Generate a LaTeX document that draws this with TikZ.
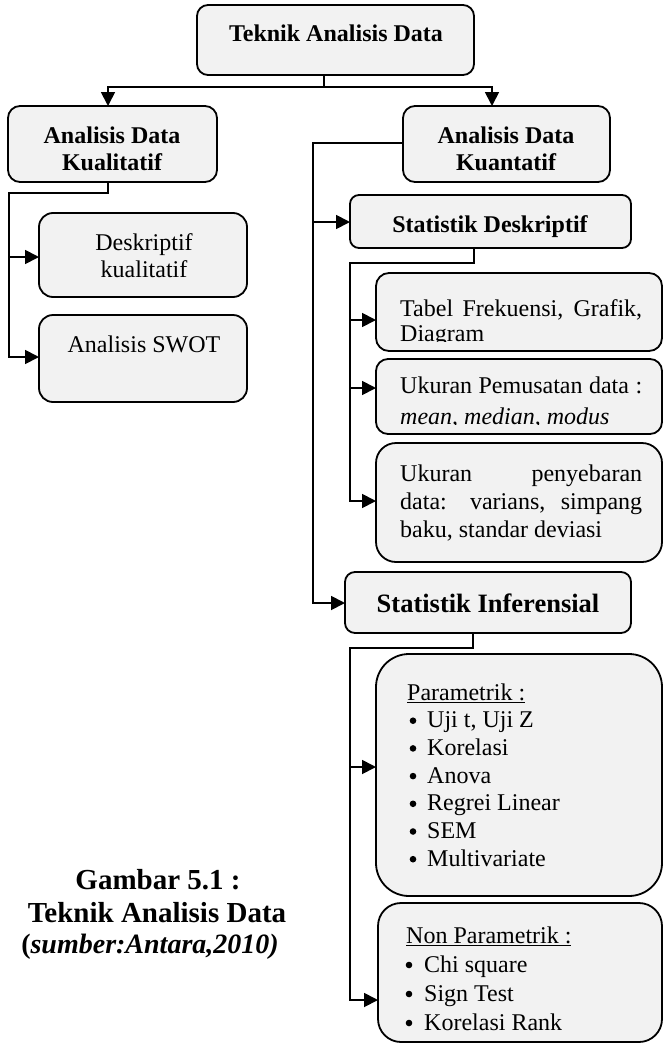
\documentclass[tikz,border=0pt]{standalone}
\usepackage{fontspec}
\setmainfont{Liberation Serif}
\usetikzlibrary{arrows.meta}
\definecolor{boxfill}{HTML}{F2F2F2}

% rounded box from its corners: name, x1, y1, x2, y2, corner radius
\newcommand\drawbox[6]{%
  \node[box, rounded corners=#6pt,
        minimum width={(#4)-(#2)}, minimum height={(#5)-(#3)}]
    (#1) at ({((#2)+(#4))/2},{((#3)+(#5))/2}) {};}

\begin{document}
\begin{tikzpicture}[x=1pt,y=-1pt,
  box/.style={draw=black, fill=boxfill, line width=1.8pt, inner sep=0pt, outer sep=0pt},
  conn/.style={draw=black, line width=1.8pt},
  arr/.style={conn, -{Triangle[length=14pt,width=14pt]}},
  txt/.style={inner sep=0pt, anchor=base, font=\fontsize{24}{27.6}\selectfont},
  btxt/.style={txt, font=\bfseries\fontsize{24}{27.6}\selectfont},
  ltxt/.style={txt, anchor=base west},
  bullet/.style={fill=black},
  captxt/.style={inner sep=0pt, anchor=base, font=\bfseries\fontsize{29}{33}\selectfont}]
\useasboundingbox (0,0) rectangle (663,1044);

% boxes
\drawbox{T}{197}{5}{474}{75}{11}
\drawbox{KL}{8}{106}{217}{182}{12}
\drawbox{KN}{403}{106}{610}{182}{12}
\drawbox{DK}{39}{213}{247}{297}{14}
\drawbox{SW}{39}{315}{247}{402}{14}
\drawbox{SD}{350}{195}{631}{248}{9}
\drawbox{TF}{376}{273}{662}{351}{13}
\drawbox{UP}{376}{359}{662}{434}{12}
\drawbox{UY}{376}{443}{662}{562}{20}
\drawbox{SI}{345}{572}{631}{633}{10}
\drawbox{PA}{376}{654}{662}{896}{33}
\drawbox{NP}{378}{903}{662}{1042}{23}

% texts
\node[btxt] (tT) at (336,41) {Teknik Analisis Data};
\node[btxt] (tKL1) at (112,143) {Analisis Data};
\node[btxt] (tKL2) at (112,170) {Kualitatif};
\begin{scope}
  \clip (403,106) rectangle (610,171);
  \node[btxt] (tKN1) at (506,143) {Analisis Data};
  \node[btxt] (tKN2) at (506,170) {Kuantatif};
\end{scope}
\node[txt] (tDK1) at (144,250) {Deskriptif};
\node[txt] (tDK2) at (144,277) {kualitatif};
\node[txt] (tSW) at (144,352) {Analisis SWOT};
\node[btxt] (tSD) at (490,232) {Statistik Deskriptif};
\begin{scope}
  \clip (376,273) rectangle (662,341);
  \node[ltxt] (tTF1) at (400,316) {\makebox[242pt][s]{Tabel Frekuensi, Grafik,}};
  \node[ltxt] (tTF2) at (400,341) {Diagram};
\end{scope}
\begin{scope}
  \clip (376,359) rectangle (662,424);
  \node[ltxt] (tUP1) at (400,393) {\makebox[242pt][s]{Ukuran Pemusatan data :}};
  \node[ltxt] (tUP2) at (400,424) {\itshape mean, median, modus};
\end{scope}
\node[ltxt] (tUY1) at (400,481) {\makebox[242pt][s]{Ukuran penyebaran}};
\node[ltxt] (tUY2) at (400,509) {\makebox[242pt][s]{data: varians, simpang}};
\node[ltxt] (tUY3) at (400,537) {baku, standar deviasi};
\node[txt, font=\bfseries\fontsize{26.5}{30}\selectfont] (tSI) at (488,612) {Statistik Inferensial};

% parametric list
\node[ltxt] (tPA) at (407,700) {\underline{Parametrik :}};
\node[ltxt] (pa1) at (427,727.7) {Uji t, Uji Z};
\node[ltxt] (pa2) at (427,755.4) {Korelasi};
\node[ltxt] (pa3) at (427,783.1) {Anova};
\node[ltxt] (pa4) at (427,810.8) {Regrei Linear};
\node[ltxt] (pa5) at (427,838.5) {SEM};
\node[ltxt] (pa6) at (427,866.2) {Multivariate};
\foreach \n in {pa1,pa2,pa3,pa4,pa5,pa6}
  \fill[bullet] ([shift={(-14,-7)}]\n.base west) circle (3.3);

% non-parametric list
\node[ltxt] (tNP) at (406,943) {\underline{Non Parametrik :}};
\node[ltxt] (np1) at (424,972) {Chi square};
\node[ltxt] (np2) at (424,1001) {Sign Test};
\node[ltxt] (np3) at (424,1030) {Korelasi Rank};
\foreach \n in {np1,np2,np3}
  \fill[bullet] ([shift={(-15,-7)}]\n.base west) circle (3.3);

% caption
\node[captxt] (c1) at (158,889) {Gambar 5.1 :};
\node[captxt] (c2) at (157,922) {Teknik Analisis Data};
\node[captxt, font=\bfseries\fontsize{28}{33}\selectfont] (c3) at (150,953) {(\textit{sumber:Antara,2010)}};

% connectors: top split
\coordinate (jT) at (324,87);
\coordinate (aKL) at (108,87);
\coordinate (aKN) at (492,87);
\draw[conn] (jT |- T.south) -- (jT);
\draw[arr] (jT) -- (aKL) -- (aKL |- KL.north);
\draw[arr] (jT) -- (aKN) -- (aKN |- KN.north);

% qualitative branch
\coordinate (kq1) at (108,193);
\coordinate (kq2) at (9,193);
\coordinate (kd) at (9,257);
\coordinate (ks) at (9,357);
\draw[arr] (kq1 |- KL.south) -- (kq1) -- (kq2) -- (ks) -- (ks -| SW.west);
\draw[arr] (kd) -- (kd -| DK.west);

% quantitative branch
\coordinate (rq) at (313,143);
\coordinate (rd) at (313,222);
\coordinate (ri) at (313,603);
\draw[arr] (rq -| KN.west) -- (rq) -- (ri) -- (ri -| SI.west);
\draw[arr] (rd) -- (rd -| SD.west);

% descriptive statistics branch
\coordinate (sq) at (474,263);
\coordinate (sq2) at (350,263);
\coordinate (b1) at (350,320);
\coordinate (b2) at (350,388);
\coordinate (b3) at (350,501);
\draw[arr] (sq |- SD.south) -- (sq) -- (sq2) -- (b3) -- (b3 -| UY.west);
\draw[arr] (b1) -- (b1 -| TF.west);
\draw[arr] (b2) -- (b2 -| UP.west);

% inferential statistics branch
\coordinate (iq) at (473,648);
\coordinate (iq2) at (350,648);
\coordinate (p1) at (350,767);
\coordinate (p2) at (350,1000);
\draw[arr] (iq |- SI.south) -- (iq) -- (iq2) -- (p2) -- (p2 -| NP.west);
\draw[arr] (p1) -- (p1 -| PA.west);
\end{tikzpicture}
\end{document}
